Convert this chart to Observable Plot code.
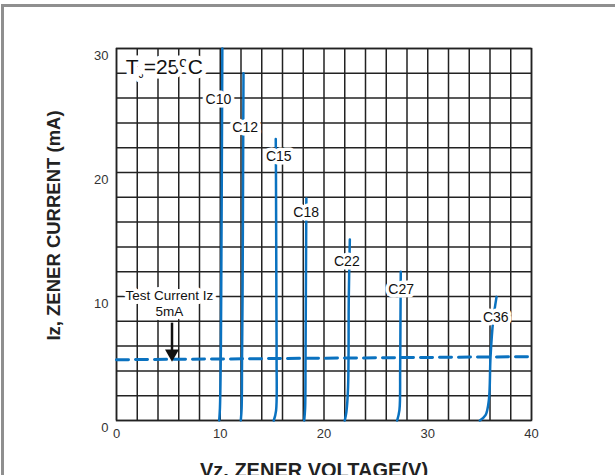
<!DOCTYPE html>
<html>
<head>
<meta charset="utf-8">
<script src="https://cdn.jsdelivr.net/npm/d3@7"></script>
<script src="https://cdn.jsdelivr.net/npm/@observablehq/plot@0.6"></script>
<style>
  html, body { margin: 0; padding: 0; background: #fff; }
  #wrap { position: relative; width: 615px; height: 475px; overflow: hidden; }
  #border { position: absolute; left: 1px; top: 4px; width: 640px; height: 500px;
            border-top: 3px solid #8f8f8f; border-left: 3px solid #8f8f8f; pointer-events: none; }
</style>
</head>
<body>
<div id="wrap"><div id="border"></div></div>
<script>
// ---- data ----
const xTicks = [0, 10, 20, 30, 40];
const yTicks = [0, 10, 20, 30];
const xGrid = [0, 2, 4, 6, 8, 10, 12, 14, 16, 18, 20, 22, 24, 26, 28, 30, 32, 34, 36, 38, 40];
const yGrid = [0, 2, 4, 6, 8, 10, 12, 14, 16, 18, 20, 22, 24, 26, 28, 30];

const devices = ["C10", "C12", "C15", "C18", "C22", "C27", "C36"];
// voltage (V) and current (mA) points of each zener curve
const vzC10 = [9.9, 9.97, 10.05, 10.09, 10.15, 10.2];
const izC10 = [0, 1, 5, 10, 20, 30];
const vzC12 = [11.98, 12.06, 12.1, 12.15, 12.2, 12.24];
const izC12 = [0, 1, 5, 10, 20, 28];
const vzC15 = [15.16, 15.38, 15.43, 15.41, 15.37, 15.35];
const izC15 = [0, 0.8, 5, 10, 20, 22.7];
const vzC18 = [18.09, 18.18, 18.22, 18.25, 18.3];
const izC18 = [0, 1, 5, 10, 17.9];
const vzC22 = [22.0, 22.16, 22.32, 22.39, 22.49];
const izC22 = [0, 0.7, 2.7, 10, 14.6];
const vzC27 = [27.05, 27.27, 27.34, 27.37, 27.4];
const izC27 = [0, 0.83, 4.06, 8.1, 12.0];
const vzC36 = [35.02, 35.57, 35.89, 36.05, 36.31, 36.63];
const izC36 = [0, 0.43, 1.64, 5.1, 8.09, 9.97];

// curve label anchor points (V, mA)
const labelV = [9.82, 12.4, 15.64, 18.28, 22.2, 27.44, 36.56];
const labelI = [25.9, 23.6, 21.3, 16.8, 12.85, 10.56, 8.27];

// test current dashed line
const testV = [0, 40];
const testI = [4.9, 5.15];
const testLabel = "Test Current Iz\n5mA";
const testLabelV = 5.1, testLabelI = 9.5;
const arrowV = 5.35, arrowTopI = 7.85, arrowHeadI = 5.4;

const tempLabel = "TJ=25°C";
const tempV = 0.9, tempI = 28.5;

const xTitle = "Vz. ZENER VOLTAGE(V)";
const yTitle = "Iz, ZENER CURRENT (mA)";

// ---- build tables ----
const curveX = [vzC10, vzC12, vzC15, vzC18, vzC22, vzC27, vzC36];
const curveY = [izC10, izC12, izC15, izC18, izC22, izC27, izC36];
const curves = devices.flatMap((d, i) => curveX[i].map((v, j) => ({device: d, v, i: curveY[i][j]})));
const labels = devices.map((d, i) => ({device: d, v: labelV[i], i: labelI[i]}));
const testLine = testV.map((v, j) => ({v, i: testI[j]}));

const font = "'Liberation Sans', Arial, sans-serif";
const blue = "#0a72c0";

const chart = Plot.plot({
  width: 615,
  height: 475,
  marginLeft: 116,
  marginRight: 84,
  marginTop: 48,
  marginBottom: 55,
  style: {fontFamily: font, background: "white", overflow: "visible"},
  x: {domain: [0, 40]},
  y: {domain: [0, 30]},
  marks: [
    Plot.gridX(xGrid, {stroke: "#222", strokeOpacity: 1, strokeWidth: 1.5}),
    Plot.gridY(yGrid, {stroke: "#222", strokeOpacity: 1, strokeWidth: 1.5}),
    Plot.frame({stroke: "#222", strokeWidth: 1.5}),
    Plot.line(testLine, {x: "v", y: "i", stroke: blue, strokeWidth: 3, strokeDasharray: "12,7"}),
    Plot.line(curves, {x: "v", y: "i", z: "device", stroke: blue, strokeWidth: 2.5, curve: "catmull-rom"}),
    Plot.ruleX([arrowV], {y1: arrowTopI, y2: arrowHeadI, stroke: "#111", strokeWidth: 2.5}),
    Plot.dot([arrowV], {x: d => d, y: () => arrowHeadI, symbol: "triangle", rotate: 180, r: 5.2, fill: "#111", stroke: "none"}),
    Plot.text(labels, {x: "v", y: "i", text: "device", fontSize: 14, fill: "#111",
      stroke: "white", strokeWidth: 7, paintOrder: "stroke", strokeLinejoin: "round"}),
    Plot.text([testLabel], {x: () => testLabelV, y: () => testLabelI, text: d => d, fontSize: 13.5, fill: "#111",
      lineHeight: 1.2, stroke: "white", strokeWidth: 8, paintOrder: "stroke", strokeLinejoin: "round"}),
    Plot.text([tempLabel], {x: () => tempV, y: () => tempI, text: d => d, fontSize: 21, fill: "#111",
      textAnchor: "start", className: "templabel",
      stroke: "white", strokeWidth: 9, paintOrder: "stroke", strokeLinejoin: "round"}),
    Plot.axisX(xTicks, {tickSize: 0, tickPadding: 8, fontSize: 13, fill: "#333", label: null}),
    Plot.axisY(yTicks, {tickSize: 0, tickPadding: 8, fontSize: 13, fill: "#333", label: null, dy: 7}),
    Plot.text([xTitle], {frameAnchor: "bottom", textAnchor: "middle", dx: -10, dy: 56, fontSize: 20, fontWeight: "bold", fill: "#222"}),
    Plot.text([yTitle], {frameAnchor: "left", textAnchor: "middle", dx: -62, dy: -9, rotate: -90, fontSize: 18.5, fontWeight: "bold", fill: "#222"})
  ]
});

document.getElementById("wrap").insertBefore(chart, document.getElementById("border"));

// subscript J and superscript o in the temperature label
d3.select(chart).selectAll("g.templabel text").each(function () {
  const t = d3.select(this);
  t.text(null);
  t.append("tspan").text("T");
  t.append("tspan").style("font-size", "10px").attr("dy", 4).text("J");
  t.append("tspan").attr("dy", -4).text("=25");
  t.append("tspan").style("font-size", "15px").attr("dy", -7).text("o");
  t.append("tspan").attr("dy", 7).text("C");
});
</script>
</body>
</html>
